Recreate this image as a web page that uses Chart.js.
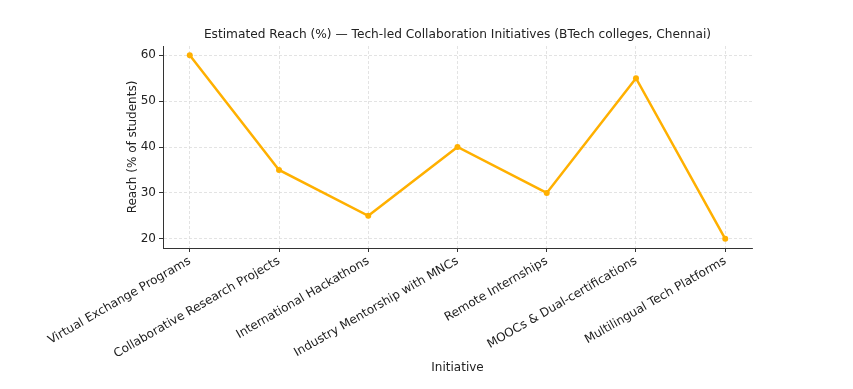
<!DOCTYPE html>
<html>
<head>
<meta charset="utf-8">
<script src="https://cdn.jsdelivr.net/npm/chart.js@4"></script>
<style>
  html, body { margin: 0; padding: 0; background: #fff; }
  canvas { display: block; }
</style>
</head>
<body>
<canvas id="chart" width="853" height="389"></canvas>
<script>
// data
const initiatives = [
  "Virtual Exchange Programs",
  "Collaborative Research Projects",
  "International Hackathons",
  "Industry Mentorship with MNCs",
  "Remote Internships",
  "MOOCs & Dual-certifications",
  "Multilingual Tech Platforms",
];
const reach = [60, 35, 25, 40, 30, 55, 20];
const yTicks = [20, 30, 40, 50, 60];

const titleText = "Estimated Reach (%) \u2014 Tech-led Collaboration Initiatives (BTech colleges, Chennai)";
const FONT = "'DejaVu Sans', sans-serif";
const lineColor = "#ffb000";
const gridColor = "#dcdcdc";
const axisColor = "#333";

// title drawn centred over the plot area, like matplotlib does
const plotTitle = {
  id: "plotTitle",
  afterDraw(chart) {
    const { ctx, chartArea } = chart;
    ctx.save();
    ctx.font = `12.2px ${FONT}`;
    ctx.fillStyle = "#222";
    ctx.textAlign = "center";
    ctx.textBaseline = "middle";
    ctx.fillText(titleText, (chartArea.left + chartArea.right) / 2, 35);
    ctx.restore();
  },
};

const gridOpts = { color: gridColor, lineWidth: 0.8, tickLength: 4, tickColor: axisColor, tickBorderDash: [], tickWidth: 1 };
const borderOpts = { display: true, color: axisColor, width: 1, dash: [3, 2] };

new Chart(document.getElementById("chart"), {
  type: "line",
  data: {
    datasets: [{
      label: "Reach",
      data: reach.map((v, i) => ({ x: i, y: v })),
      borderColor: lineColor,
      backgroundColor: lineColor,
      borderWidth: 2.5,
      pointRadius: 3,
      pointBorderWidth: 0,
      tension: 0,
      fill: false,
    }],
  },
  options: {
    responsive: false,
    animation: false,
    devicePixelRatio: 1,
    layout: { padding: { top: 46, right: 101, left: 0, bottom: 0 } },
    plugins: { legend: { display: false }, title: { display: false }, tooltip: { enabled: false } },
    scales: {
      x: {
        type: "linear",
        min: -0.3,
        max: 6.3,
        afterBuildTicks: (s) => { s.ticks = initiatives.map((_, i) => ({ value: i })); },
        afterFit: (s) => { s.height = 389 - 248; },
        ticks: {
          callback: (v) => initiatives[v],
          minRotation: 30,
          maxRotation: 30,
          autoSkip: false,
          color: "#222",
          font: { family: FONT, size: 12 },
          padding: 2,
        },
        grid: gridOpts,
        border: borderOpts,
        title: { display: true, text: "Initiative", color: "#222", font: { family: FONT, size: 12 }, padding: { top: 0, bottom: 14 } },
      },
      y: {
        min: 18,
        max: 62,
        afterBuildTicks: (s) => { s.ticks = yTicks.map((v) => ({ value: v })); },
        afterFit: (s) => { s.width = 163; },
        ticks: { color: "#222", font: { family: FONT, size: 12 }, padding: 3 },
        grid: gridOpts,
        border: borderOpts,
        title: { display: true, text: "Reach (% of students)", color: "#222", font: { family: FONT, size: 12 }, padding: { top: 126, bottom: 0 } },
      },
    },
  },
  plugins: [plotTitle],
});
</script>
</body>
</html>
